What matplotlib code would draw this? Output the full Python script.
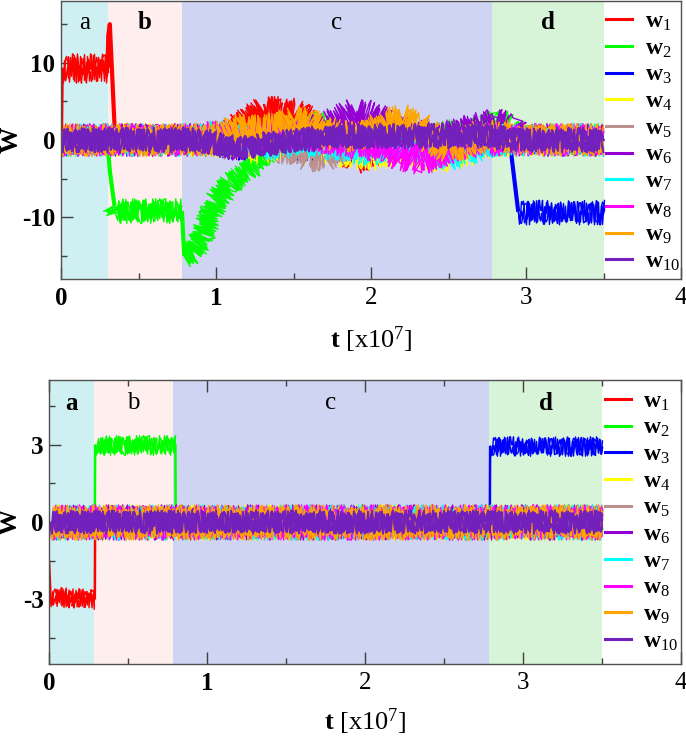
import matplotlib
matplotlib.use('Agg')
import numpy as np
import matplotlib.pyplot as plt
from matplotlib.lines import Line2D

plt.rcParams['font.family'] = 'Liberation Serif'
plt.rcParams['mathtext.fontset'] = 'custom'
plt.rcParams['mathtext.rm'] = 'Liberation Serif'
plt.rcParams['mathtext.bf'] = 'Liberation Serif:bold'
plt.rcParams['mathtext.it'] = 'Liberation Serif:italic'
plt.rcParams['axes.unicode_minus'] = False

# ---- data ----
labels = ['w$_{%d}$' % i for i in range(1, 11)]
colors = ['#ff0000', '#00ff00', '#0000ff', '#ffff00', '#bc8f8f',
          '#9400d3', '#00ffff', '#ff00ff', '#ffa500', '#7221bc']

region_names = ['a', 'b', 'c', 'd']
region_colors = ['#cef0f2', '#ffeeee', '#ced4f2', '#d8f4d8']
regions_top = [0.0, 0.30, 0.78, 2.78, 3.50]
regions_bot = [0.0, 0.285, 0.785, 2.785, 3.50]
name_weight_top = ['normal', 'bold', 'normal', 'bold']
name_weight_bot = ['bold', 'normal', 'normal', 'bold']

xtick_vals = [0, 1, 2, 3, 4]
xtick_weight = ['bold', 'bold', 'normal', 'normal', 'normal']
ytick_top = [-10, 0, 10]
ytick_bot = [-3, 0, 3]

# upper panel: knot times and the running level of every weight
t_top = [0.0, 0.005, 0.30, 0.305, 0.315, 0.345, 0.36, 0.78, 0.795, 0.85, 0.9,
         1.0, 1.1, 1.2, 1.3, 1.4, 1.5, 1.6, 1.7, 1.8, 1.9, 2.0, 2.1, 2.2, 2.3,
         2.4, 2.5, 2.6, 2.7, 2.8, 2.9, 2.95, 3.0, 3.5]
w1_top = [0.0, 9.3, 9.3, 13.5, 15.0, 2.0, 0.3, 0.0, 0.0, 0.0, 0.2,
          0.5, 1.0, 2.5, 3.8, 3.8, 3.5, 2.5, 1.0, -0.5, -2.5, -2.0, -1.0, -0.5, 0.0,
          0.0, 0.0, 0.0, 0.5, 0.5, 0.0, 0.0, 0.0, 0.0]
w2_top = [0.0, 0.0, 0.0, -1.5, -4.0, -8.5, -9.2, -9.2, -15.0, -14.5, -13.0,
          -8.0, -5.5, -4.0, -2.0, -0.5, 1.0, 2.0, 2.0, 1.0, 0.5, 0.5, 0.5, 0.5, 0.5,
          0.5, 1.0, 1.0, 1.5, 2.5, 2.0, 0.0, 0.0, 0.0]
w3_top = [0.0, 0.0, 0.0, 0.0, 0.0, 0.0, 0.0, 0.0, 0.0, 0.0, 0.0,
          -0.5, -1.0, -1.0, -0.5, -0.5, -1.0, -1.5, -1.0, -1.5, -1.0, -1.0, -1.5, -1.0, -0.5,
          -0.5, -0.5, -0.5, 0.0, 0.0, -1.0, -9.3, -9.3, -9.3]
w4_top = [0.0, 0.0, 0.0, 0.0, 0.0, 0.0, 0.0, 0.0, 0.0, 0.0, 0.0,
          0.0, -0.5, -1.0, -1.0, -0.5, -0.5, -1.0, -1.0, -1.5, -2.0, -2.0, -1.5, -1.0, -1.5,
          -2.0, -2.0, -1.5, -0.5, 0.0, 0.0, 0.0, 0.0, 0.0]
w5_top = [0.0, 0.0, 0.0, 0.0, 0.0, 0.0, 0.0, 0.0, 0.0, 0.0, 0.0,
          0.5, 0.5, 0.0, -0.5, -1.0, -1.0, -2.0, -2.0, -1.0, 0.0, 0.0, -0.5, -0.5, -1.0,
          -0.5, 0.0, 0.0, 0.0, 0.0, 0.0, 0.0, 0.0, 0.0]
w6_top = [0.0, 0.0, 0.0, 0.0, 0.0, 0.0, 0.0, 0.0, 0.0, 0.0, 0.0,
          0.0, -0.5, -0.5, 0.0, 0.0, 0.5, 1.0, 1.5, 2.5, 3.5, 3.0, 2.0, 1.0, 0.5,
          0.5, 0.5, 1.0, 1.5, 2.0, 1.5, 0.0, 0.0, 0.0]
w7_top = [0.0, 0.0, 0.0, 0.0, 0.0, 0.0, 0.0, 0.0, 0.0, 0.0, 0.0,
          0.5, 0.0, 0.0, -0.5, -0.5, 0.0, 0.0, -0.5, -0.5, -1.0, -1.5, -1.0, -0.5, -1.0,
          -1.5, -2.0, -1.5, -0.5, 0.0, 0.0, 0.0, 0.0, 0.0]
w8_top = [0.0, 0.0, 0.0, 0.0, 0.0, 0.0, 0.0, 0.0, 0.0, 0.0, 0.0,
          0.5, 0.0, 0.5, 0.5, 0.5, 1.0, 0.5, 0.0, 0.0, -0.5, -0.5, -1.0, -2.0, -2.5,
          -2.0, -1.0, -0.5, 0.0, 0.0, 0.0, 0.0, 0.0, 0.0]
w9_top = [0.0, 0.0, 0.0, 0.0, 0.0, 0.0, 0.0, 0.0, 0.0, 0.0, 0.0,
          0.0, 1.0, 1.5, 1.5, 1.5, 2.5, 2.0, 1.0, 0.5, 0.5, 1.0, 2.0, 2.5, 2.0,
          0.0, -1.0, -0.5, 0.5, 0.5, 0.5, 0.0, 0.0, 0.0]
w10_top = [0.0, 0.0, 0.0, 0.0, 0.0, 0.0, 0.0, 0.0, 0.0, 0.0, 0.0,
           -0.5, -1.0, -1.0, -0.5, -0.5, 0.0, 0.0, 0.5, 0.5, 0.5, 0.5, 0.5, 0.5, 0.5,
           0.5, 0.5, 0.5, 0.5, 0.5, 0.0, 0.0, 0.0, 0.0]
# half width of the fluctuation band of each weight (W units)
noise_top = [1.9, 1.6, 1.6, 2.1, 2.1, 2.1, 2.1, 2.1, 2.1, 1.6]

# lower panel
t_bot = [0.0, 0.01, 0.29, 0.292, 0.80, 0.802, 2.79, 2.792, 3.5]
w1_bot = [-1.5, -2.9, -3.0, 0.0, 0.0, 0.0, 0.0, 0.0, 0.0]
w2_bot = [0.0, 0.0, 0.0, 3.0, 3.0, 0.0, 0.0, 0.0, 0.0]
w3_bot = [0.0, 0.0, 0.0, 0.0, 0.0, 0.0, 0.0, 2.95, 2.95]
w4_bot = [0.0, 0.0, 0.0, 0.0, 0.0, 0.0, 0.0, 0.0, 0.0]
w5_bot = [0.0, 0.0, 0.0, 0.0, 0.0, 0.0, 0.0, 0.0, 0.0]
w6_bot = [0.0, 0.0, 0.0, 0.0, 0.0, 0.0, 0.0, 0.0, 0.0]
w7_bot = [0.0, 0.0, 0.0, 0.0, 0.0, 0.0, 0.0, 0.0, 0.0]
w8_bot = [0.0, 0.0, 0.0, 0.0, 0.0, 0.0, 0.0, 0.0, 0.0]
w9_bot = [0.0, 0.0, 0.0, 0.0, 0.0, 0.0, 0.0, 0.0, 0.0]
w10_bot = [0.0, 0.0, 0.0, 0.0, 0.0, 0.0, 0.0, 0.0, 0.0]
noise_bot = [0.38, 0.38, 0.38, 0.68, 0.68, 0.68, 0.68, 0.68, 0.68, 0.45]

top_series = [w1_top, w2_top, w3_top, w4_top, w5_top, w6_top, w7_top, w8_top, w9_top, w10_top]
bot_series = [w1_bot, w2_bot, w3_bot, w4_bot, w5_bot, w6_bot, w7_bot, w8_bot, w9_bot, w10_bot]


def draw_trace(ax, t, w, noise, color, k, jump_lw):
    """Plot one weight: flat/slow parts get a jittery (sketch) stroke as the
    fluctuation band, sudden jumps are drawn as a plain line."""
    t = np.asarray(t, float)
    w = np.asarray(w, float)
    pts = ax.transData.transform(np.column_stack([t, w]))
    dx = np.abs(np.diff(pts[:, 0]))
    dy = np.abs(np.diff(pts[:, 1]))
    steep = dy > 3.0 * np.maximum(dx, 1e-9)
    ppu = ax.transData.transform((0, 1))[1] - ax.transData.transform((0, 0))[1]
    lw = 1.5 if k == 9 else 1.0
    start = 0
    for i in range(1, len(steep) + 1):
        if i == len(steep) or steep[i] != steep[start]:
            tt, ww = t[start:i + 1], w[start:i + 1]
            if steep[start]:
                ax.plot(tt, ww, color=color, lw=jump_lw, solid_capstyle='butt')
            else:
                # a few overlaid jitter strokes make the band dense
                for j, f in enumerate([1.0, 1.37, 1.83]):
                    ln, = ax.plot(tt, ww, color=color, lw=lw)
                    ln.set_sketch_params(noise * ppu * (1.0 - 0.12 * j),
                                         (1.3 + 0.19 * k) * f, 3.0 + 0.4 * j)
            start = i


def setup_panel(ax, ylim, yticks, yminor, regions, weights, name_y):
    ax.set_xlim(0, 4)
    ax.set_ylim(-ylim, ylim)
    for lo, hi, c in zip(regions[:-1], regions[1:], region_colors):
        ax.axvspan(lo, hi, color=c, lw=0, zorder=0)
    for lo, hi, nm, wt in zip(regions[:-1], regions[1:], region_names, weights):
        ax.text((lo + hi) / 2, name_y, nm, ha='center', va='center',
                fontsize=18, fontweight=wt)
    ax.set_xticks(xtick_vals)
    ax.set_xticklabels([str(v) for v in xtick_vals])
    for lab, wt in zip(ax.get_xticklabels(), xtick_weight):
        lab.set_fontweight(wt)
    ax.set_xticks(np.arange(0.5, 4, 1.0), minor=True)
    ax.set_yticks(yticks)
    ax.set_yticklabels([str(v) for v in yticks], fontweight='bold')
    ax.set_yticks(yminor, minor=True)
    ax.tick_params(which='both', direction='in', color='#404040', width=1.0)
    ax.tick_params(which='major', length=8.5, labelsize=18)
    ax.tick_params(which='minor', length=4.3)
    ax.tick_params(axis='x', pad=6)
    ax.tick_params(axis='y', pad=4)
    for s in ax.spines.values():
        s.set_color('#505050')
        s.set_linewidth(1.0)
    ax.set_xlabel(r'$\mathbf{t}$ [x10$^{7}$]', fontsize=19, labelpad=10)
    ax.set_ylabel('W', fontsize=19, fontweight='bold')


fig = plt.figure(figsize=(6.86, 7.41), dpi=100)
ax1 = fig.add_axes([61 / 686, 1 - 279 / 741, 620 / 686, 278 / 741])
ax2 = fig.add_axes([49 / 686, 1 - 664 / 741, 632 / 686, 284 / 741])

setup_panel(ax1, 18, ytick_top, [-15, -5, 5, 15], regions_top, name_weight_top, 15.2)
setup_panel(ax2, 5.5, ytick_bot, [-4.5, -1.5, 1.5, 4.5], regions_bot, name_weight_bot, 4.6)
ax2.xaxis.labelpad = 8
ax2.tick_params(which='both', top=True)
ax1.yaxis.set_label_coords(-0.062, 0.5)
ax2.yaxis.set_label_coords(-0.043, 0.5)

for k, (w, c) in enumerate(zip(top_series, colors)):
    draw_trace(ax1, t_top, w, noise_top[k], c, k, 3.0)
for k, (w, c) in enumerate(zip(bot_series, colors)):
    draw_trace(ax2, t_bot, w, noise_bot[k], c, k, 1.8)

handles = [Line2D([], [], color=c, lw=2.2) for c in colors]
for ax, x0, y0 in [(ax1, 0.879, 0.964), (ax2, 0.879, 0.962)]:
    leg = ax.legend(handles, labels, loc='upper left', bbox_to_anchor=(x0, y0),
                    frameon=False, borderpad=0, borderaxespad=0,
                    handlelength=1.1, handletextpad=0.55, labelspacing=0.205,
                    prop={'family': 'Liberation Serif', 'weight': 'bold', 'size': 17})

fig.savefig('out.png', dpi=100)
